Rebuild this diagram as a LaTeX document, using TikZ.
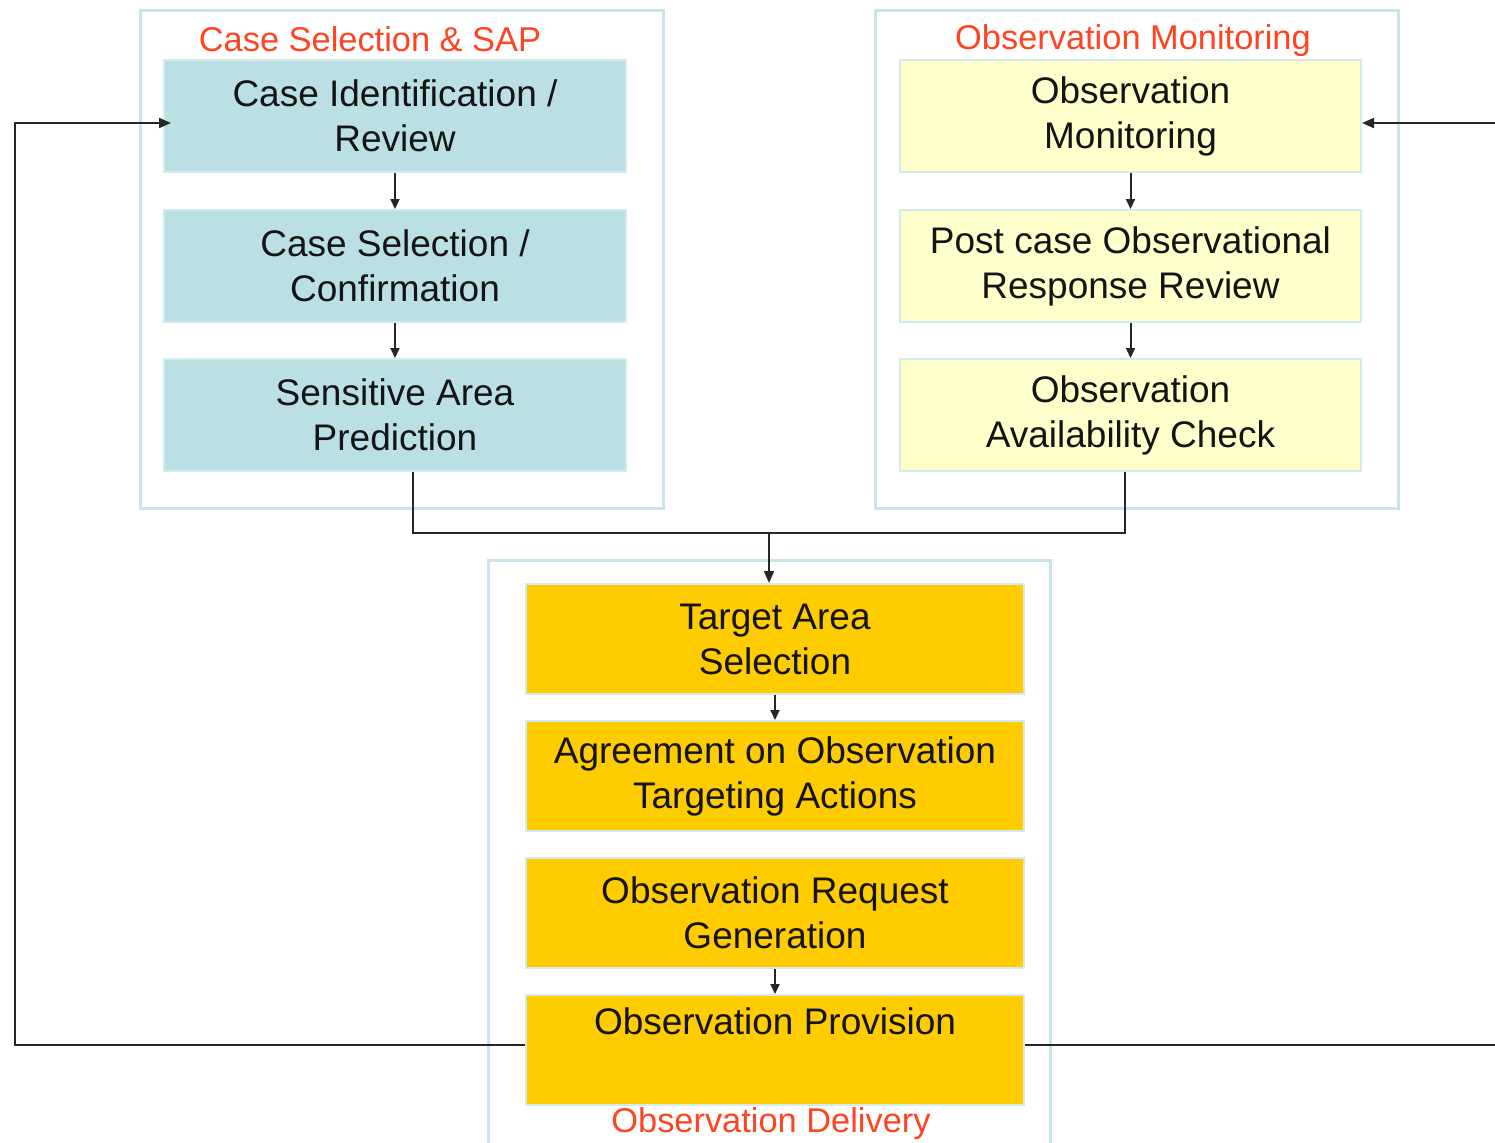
\documentclass[tikz,border=0pt]{standalone}
\usepackage{fontspec}
\setmainfont{Liberation Sans}
\usetikzlibrary{arrows.meta}
\definecolor{cbox}{HTML}{BBE0E3}
\definecolor{ybox}{HTML}{FFFFCC}
\definecolor{gbox}{HTML}{FFCC00}
\definecolor{edge}{HTML}{D3EBEE}
\definecolor{frame}{HTML}{C8E4E8}
\definecolor{ttl}{HTML}{FF4422}
\tikzset{
  grp/.style={draw=frame, line width=1.5pt, fill=white},
  stage/.style={draw=edge, line width=1pt, inner sep=0pt, align=center,
    font=\fontsize{18.5}{22.5}\selectfont, text=black!92},
  lstage/.style={stage, fill=cbox, minimum width=231pt, minimum height=56pt},
  rstage/.style={stage, fill=ybox, minimum width=230.5pt, minimum height=56pt},
  bstage/.style={stage, fill=gbox, minimum width=249pt, minimum height=55pt},
  grptitle/.style={text=ttl, font=\fontsize{17.2}{20}\selectfont, inner sep=0pt},
  conn/.style={line width=1pt, black!85},
  bigarr/.style={conn, -{Triangle[length=6pt,width=5pt]}},
  smallarr/.style={conn, -{Triangle[length=5pt,width=4.5pt]}},
}
\begin{document}
\begin{tikzpicture}[x=0.5pt,y=-0.5pt]
\useasboundingbox (0,0) rectangle (1495,1142);
% group frames
\draw[grp] (140,10) rectangle (663,508);
\draw[grp] (875,10) rectangle (1398,508);
\draw[grp] (488,560) rectangle (1050,1150);
% titles
\node[grptitle] (t1) at (370,39) {Case Selection \& SAP};
\node[grptitle] (t2) at (1133,41) {Observation Monitoring};
\node[grptitle] (t3) at (771,1124) {Observation Delivery};
% left stages
\node[lstage] (l1) at (395,116) {Case Identification /\\Review};
\node[lstage] (l2) at (395,266) {Case Selection /\\Confirmation};
\node[lstage] (l3) at (395,415) {Sensitive Area\\Prediction};
% right stages
\node[rstage] (r1) at (1130.5,116) {Observation\\Monitoring};
\node[rstage] (r2) at (1130.5,266) {Post case Observational\\Response Review};
\node[rstage] (r3) at (1130.5,415) {Observation\\Availability Check};
% bottom stages
\node[bstage] (b1) at (775,639) {Target Area\\Selection};
\node[bstage] (b2) at (775,776) {Agreement on Observation\\Targeting Actions};
\node[bstage] (b3) at (775,913) {Observation Request\\Generation};
\node[bstage] (b4) at (775,1050) {Observation Provision\\\strut};
% internal arrows
\draw[smallarr] (l1.south) -- (l2.north);
\draw[smallarr] (l2.south) -- (l3.north);
\draw[smallarr] (r1.south) -- (r2.north);
\draw[smallarr] (r2.south) -- (r3.north);
\draw[smallarr] (b1.south) -- (b2.north);
\draw[smallarr] (b3.south) -- (b4.north);
% merge
\coordinate (ml) at (413,533);
\coordinate (mr) at (1125,533);
\coordinate (mm) at (769,533);
\draw[conn] (l3.south -| ml) -- (ml) -- (mr) -- (r3.south -| mr);
\draw[bigarr] (mm) -- (mm |- b1.north);
% feedback loops
\coordinate (lx) at (15,0);
\coordinate (rx) at (1500,0);
\coordinate (fy) at (0,1045);
\coordinate (ty) at (0,123);
\draw[bigarr] (b4.west |- fy) -| (lx |- fy) -- (lx |- ty) -- ([xshift=4pt]l1.west |- ty);
\draw[conn] (b4.east |- fy) -- (rx |- fy);
\draw[bigarr] (rx |- ty) -- (r1.east |- ty);
\end{tikzpicture}
\end{document}
